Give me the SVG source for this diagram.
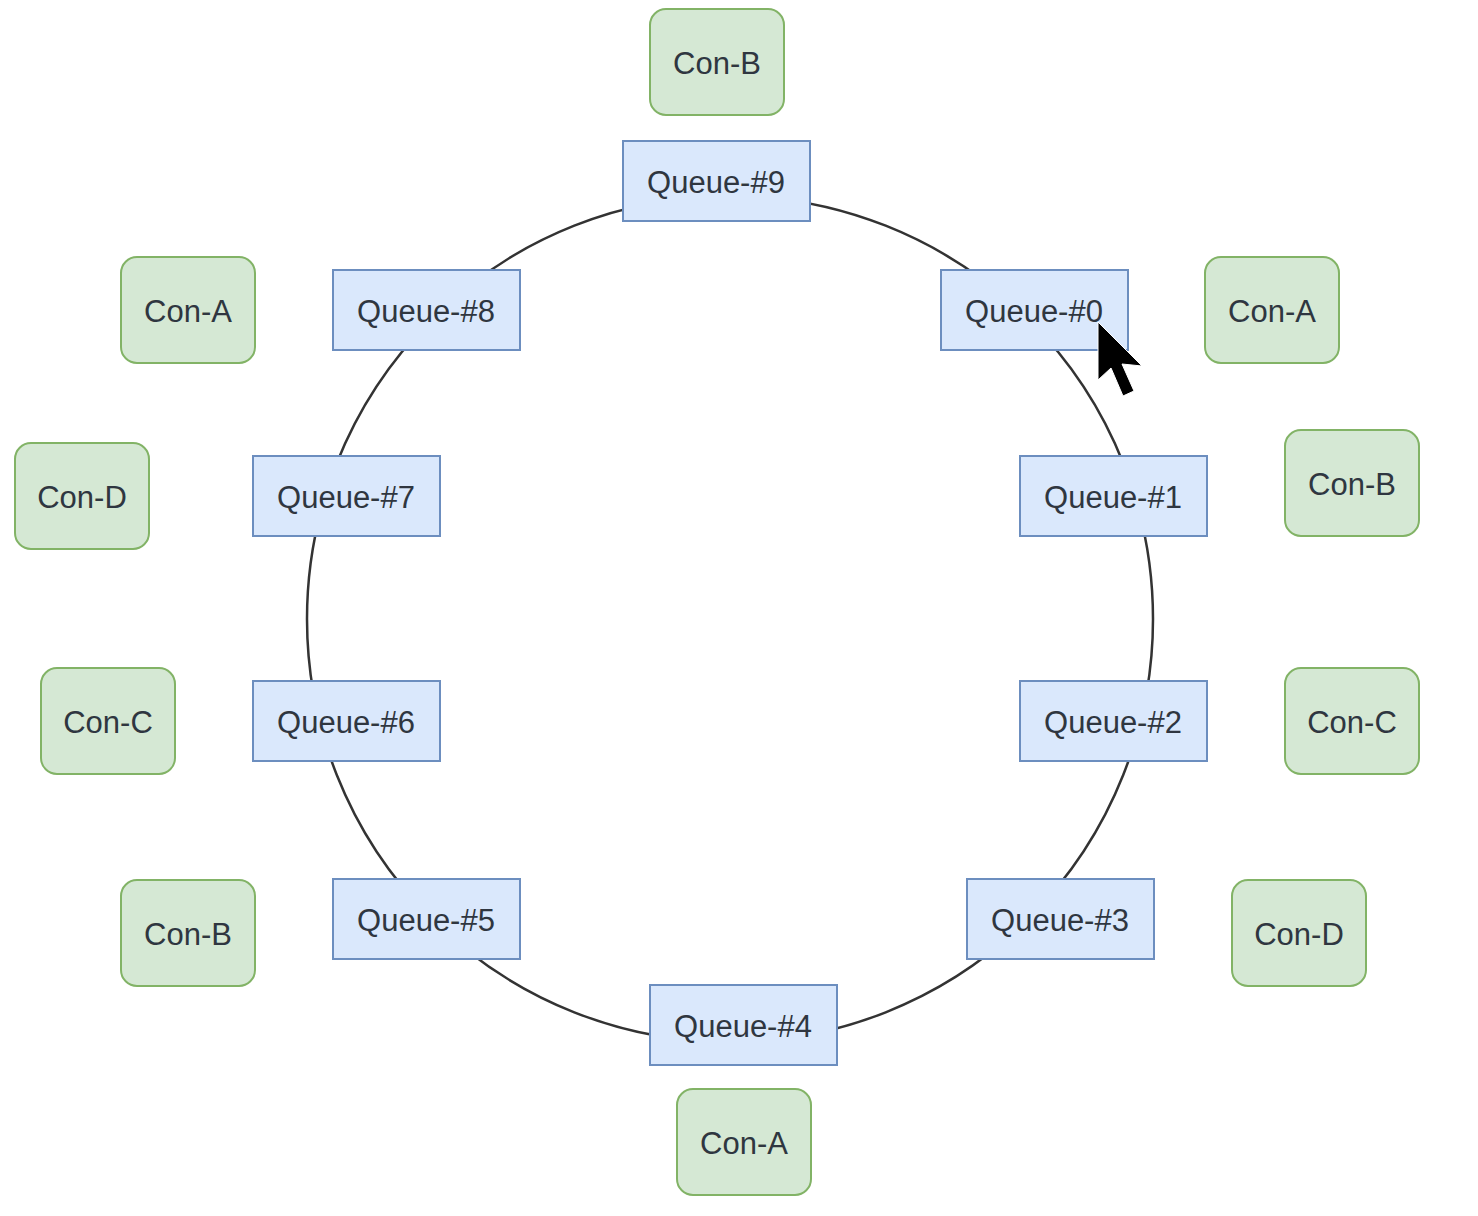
<svg xmlns="http://www.w3.org/2000/svg" width="1478" height="1216" viewBox="0 0 1478 1216">
  <style>
    .q rect { fill: #dae8fc; stroke: #6c8ebf; stroke-width: 2; }
    .c rect { fill: #d5e8d4; stroke: #82b366; stroke-width: 2; }
    text { font-family: "Liberation Sans", Arial, sans-serif; font-size: 31px; fill: #2f3640; text-anchor: middle; dominant-baseline: central; }
    .ring { fill: none; stroke: #333333; stroke-width: 2.5; }
  </style>
  <rect width="1478" height="1216" fill="#ffffff"/>

  <!-- ring linking the queues -->
  <g id="connectors">
    <circle class="ring" cx="730" cy="619" r="423"/>
  </g>

  <!-- queues -->
  <g id="queue-9" class="q"><rect x="623" y="141" width="187" height="80"/><text x="716" y="182">Queue-#9</text></g>
  <g id="queue-0" class="q"><rect x="941" y="270" width="187" height="80"/><text x="1034" y="311">Queue-#0</text></g>
  <g id="queue-1" class="q"><rect x="1020" y="456" width="187" height="80"/><text x="1113" y="497">Queue-#1</text></g>
  <g id="queue-2" class="q"><rect x="1020" y="681" width="187" height="80"/><text x="1113" y="722">Queue-#2</text></g>
  <g id="queue-3" class="q"><rect x="967" y="879" width="187" height="80"/><text x="1060" y="920">Queue-#3</text></g>
  <g id="queue-4" class="q"><rect x="650" y="985" width="187" height="80"/><text x="743" y="1026">Queue-#4</text></g>
  <g id="queue-5" class="q"><rect x="333" y="879" width="187" height="80"/><text x="426" y="920">Queue-#5</text></g>
  <g id="queue-6" class="q"><rect x="253" y="681" width="187" height="80"/><text x="346" y="722">Queue-#6</text></g>
  <g id="queue-7" class="q"><rect x="253" y="456" width="187" height="80"/><text x="346" y="497">Queue-#7</text></g>
  <g id="queue-8" class="q"><rect x="333" y="270" width="187" height="80"/><text x="426" y="311">Queue-#8</text></g>

  <!-- consumers -->
  <g id="con-b-top" class="c"><rect x="650" y="9" width="134" height="106" rx="16"/><text x="717" y="63">Con-B</text></g>
  <g id="con-a-right" class="c"><rect x="1205" y="257" width="134" height="106" rx="16"/><text x="1272" y="311">Con-A</text></g>
  <g id="con-b-right" class="c"><rect x="1285" y="430" width="134" height="106" rx="16"/><text x="1352" y="484">Con-B</text></g>
  <g id="con-c-right" class="c"><rect x="1285" y="668" width="134" height="106" rx="16"/><text x="1352" y="722">Con-C</text></g>
  <g id="con-d-right" class="c"><rect x="1232" y="880" width="134" height="106" rx="16"/><text x="1299" y="934">Con-D</text></g>
  <g id="con-a-bottom" class="c"><rect x="677" y="1089" width="134" height="106" rx="16"/><text x="744" y="1143">Con-A</text></g>
  <g id="con-b-left" class="c"><rect x="121" y="880" width="134" height="106" rx="16"/><text x="188" y="934">Con-B</text></g>
  <g id="con-c-left" class="c"><rect x="41" y="668" width="134" height="106" rx="16"/><text x="108" y="722">Con-C</text></g>
  <g id="con-d-left" class="c"><rect x="15" y="443" width="134" height="106" rx="16"/><text x="82" y="497">Con-D</text></g>
  <g id="con-a-left" class="c"><rect x="121" y="257" width="134" height="106" rx="16"/><text x="188" y="311">Con-A</text></g>

  <!-- pointer -->
  <polygon points="1098,322 1098,380 1111,368 1123,396 1134,391 1122,364 1142,366" fill="#000000" stroke="#ffffff" stroke-width="1"/>
</svg>
